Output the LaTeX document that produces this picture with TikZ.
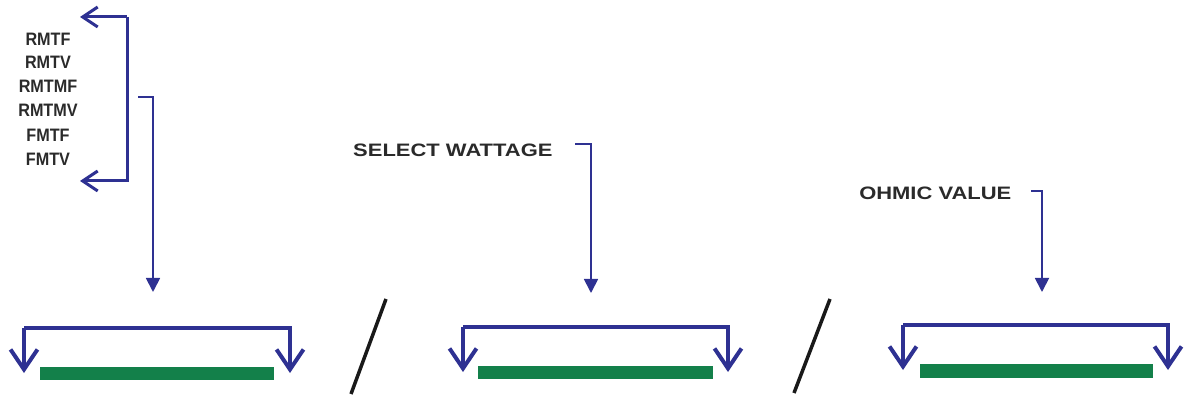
\documentclass[tikz,border=0pt]{standalone}
\usepackage{fontspec}
\setmainfont{Liberation Sans}
\usetikzlibrary{arrows.meta}
\definecolor{bracketblue}{HTML}{2E3192}
\definecolor{bargreen}{HTML}{13804A}
\definecolor{labelgrey}{HTML}{2A2A2A}
\tikzset{
  code/.style={font=\bfseries\fontsize{18}{18}\selectfont, text=labelgrey, inner sep=0pt, xscale=0.9, anchor=center},
  caption/.style={font=\bfseries\fontsize{18}{18}\selectfont, text=labelgrey, inner sep=0pt, anchor=west, xscale=1.22},
  bigbracket/.style={draw=bracketblue, line width=4pt, line join=miter, -{Straight Barb[length=20pt, width=27pt, line width=4pt]}},
  codebracket/.style={draw=bracketblue, line width=3pt, line join=miter, -{Straight Barb[length=15pt, width=20pt, line width=3pt]}},
  pointer/.style={draw=bracketblue, line width=1.8pt, line join=miter, -{Triangle[length=14pt, width=14pt]}},
  resbar/.style={fill=bargreen, draw=none},
  slash/.style={draw=black!90, line width=3.5pt},
}
\begin{document}
\begin{tikzpicture}[x=1pt, y=-1pt]
\useasboundingbox (0,0) rectangle (1187,398);

% code list
\node[code] (c1) at (48,39) {RMTF};
\node[code] (c2) at (48,62) {RMTV};
\node[code] (c3) at (48,86) {RMTMF};
\node[code] (c4) at (48,110) {RMTMV};
\node[code] (c5) at (48,135) {FMTF};
\node[code] (c6) at (48,159) {FMTV};

\coordinate (cbtop) at (80,17);
\coordinate (cbbot) at (80,181);
\coordinate (cbspine) at (127,17);
\coordinate (cbspinebot) at (127,181);
\draw[codebracket] (cbspine) -- (cbtop);
\draw[codebracket] (cbspine) -- (cbspinebot) -- (cbbot);

% pointer from code list
\coordinate (p1s) at (138,97);
\coordinate (p1c) at (153,97);
\coordinate (p1e) at (153,292);
\draw[pointer] (p1s) -- (p1c) -- (p1e);

% captions
\node[caption] (sw) at (353,150) {SELECT WATTAGE};
\node[caption] (ov) at (859,193) {OHMIC VALUE};

\coordinate (p2s) at (575,144);
\coordinate (p2c) at (591,144);
\coordinate (p2e) at (591,293);
\draw[pointer] (p2s) -- (p2c) -- (p2e);

\coordinate (p3s) at (1031,191);
\coordinate (p3c) at (1042,191);
\coordinate (p3e) at (1042,292);
\draw[pointer] (p3s) -- (p3c) -- (p3e);

% group 1
\coordinate (g1l) at (24,373);
\coordinate (g1lt) at (24,328);
\coordinate (g1rt) at (290,328);
\coordinate (g1r) at (290,373);
\draw[bigbracket] (g1lt) -- (g1l);
\draw[bigbracket] (g1lt) -- (g1rt) -- (g1r);
\path[resbar] (40,367) rectangle (274,380);

% slash 1
\coordinate (s1a) at (386,299);
\coordinate (s1b) at (351,394);
\draw[slash] (s1a) -- (s1b);

% group 2
\coordinate (g2l) at (463,372);
\coordinate (g2lt) at (463,327);
\coordinate (g2rt) at (728,327);
\coordinate (g2r) at (728,372);
\draw[bigbracket] (g2lt) -- (g2l);
\draw[bigbracket] (g2lt) -- (g2rt) -- (g2r);
\path[resbar] (478,366) rectangle (713,379);

% slash 2
\coordinate (s2a) at (830,299);
\coordinate (s2b) at (794,393);
\draw[slash] (s2a) -- (s2b);

% group 3
\coordinate (g3l) at (903,370);
\coordinate (g3lt) at (903,325);
\coordinate (g3rt) at (1168,325);
\coordinate (g3r) at (1168,370);
\draw[bigbracket] (g3lt) -- (g3l);
\draw[bigbracket] (g3lt) -- (g3rt) -- (g3r);
\path[resbar] (920,364) rectangle (1153,378);
\end{tikzpicture}
\end{document}
